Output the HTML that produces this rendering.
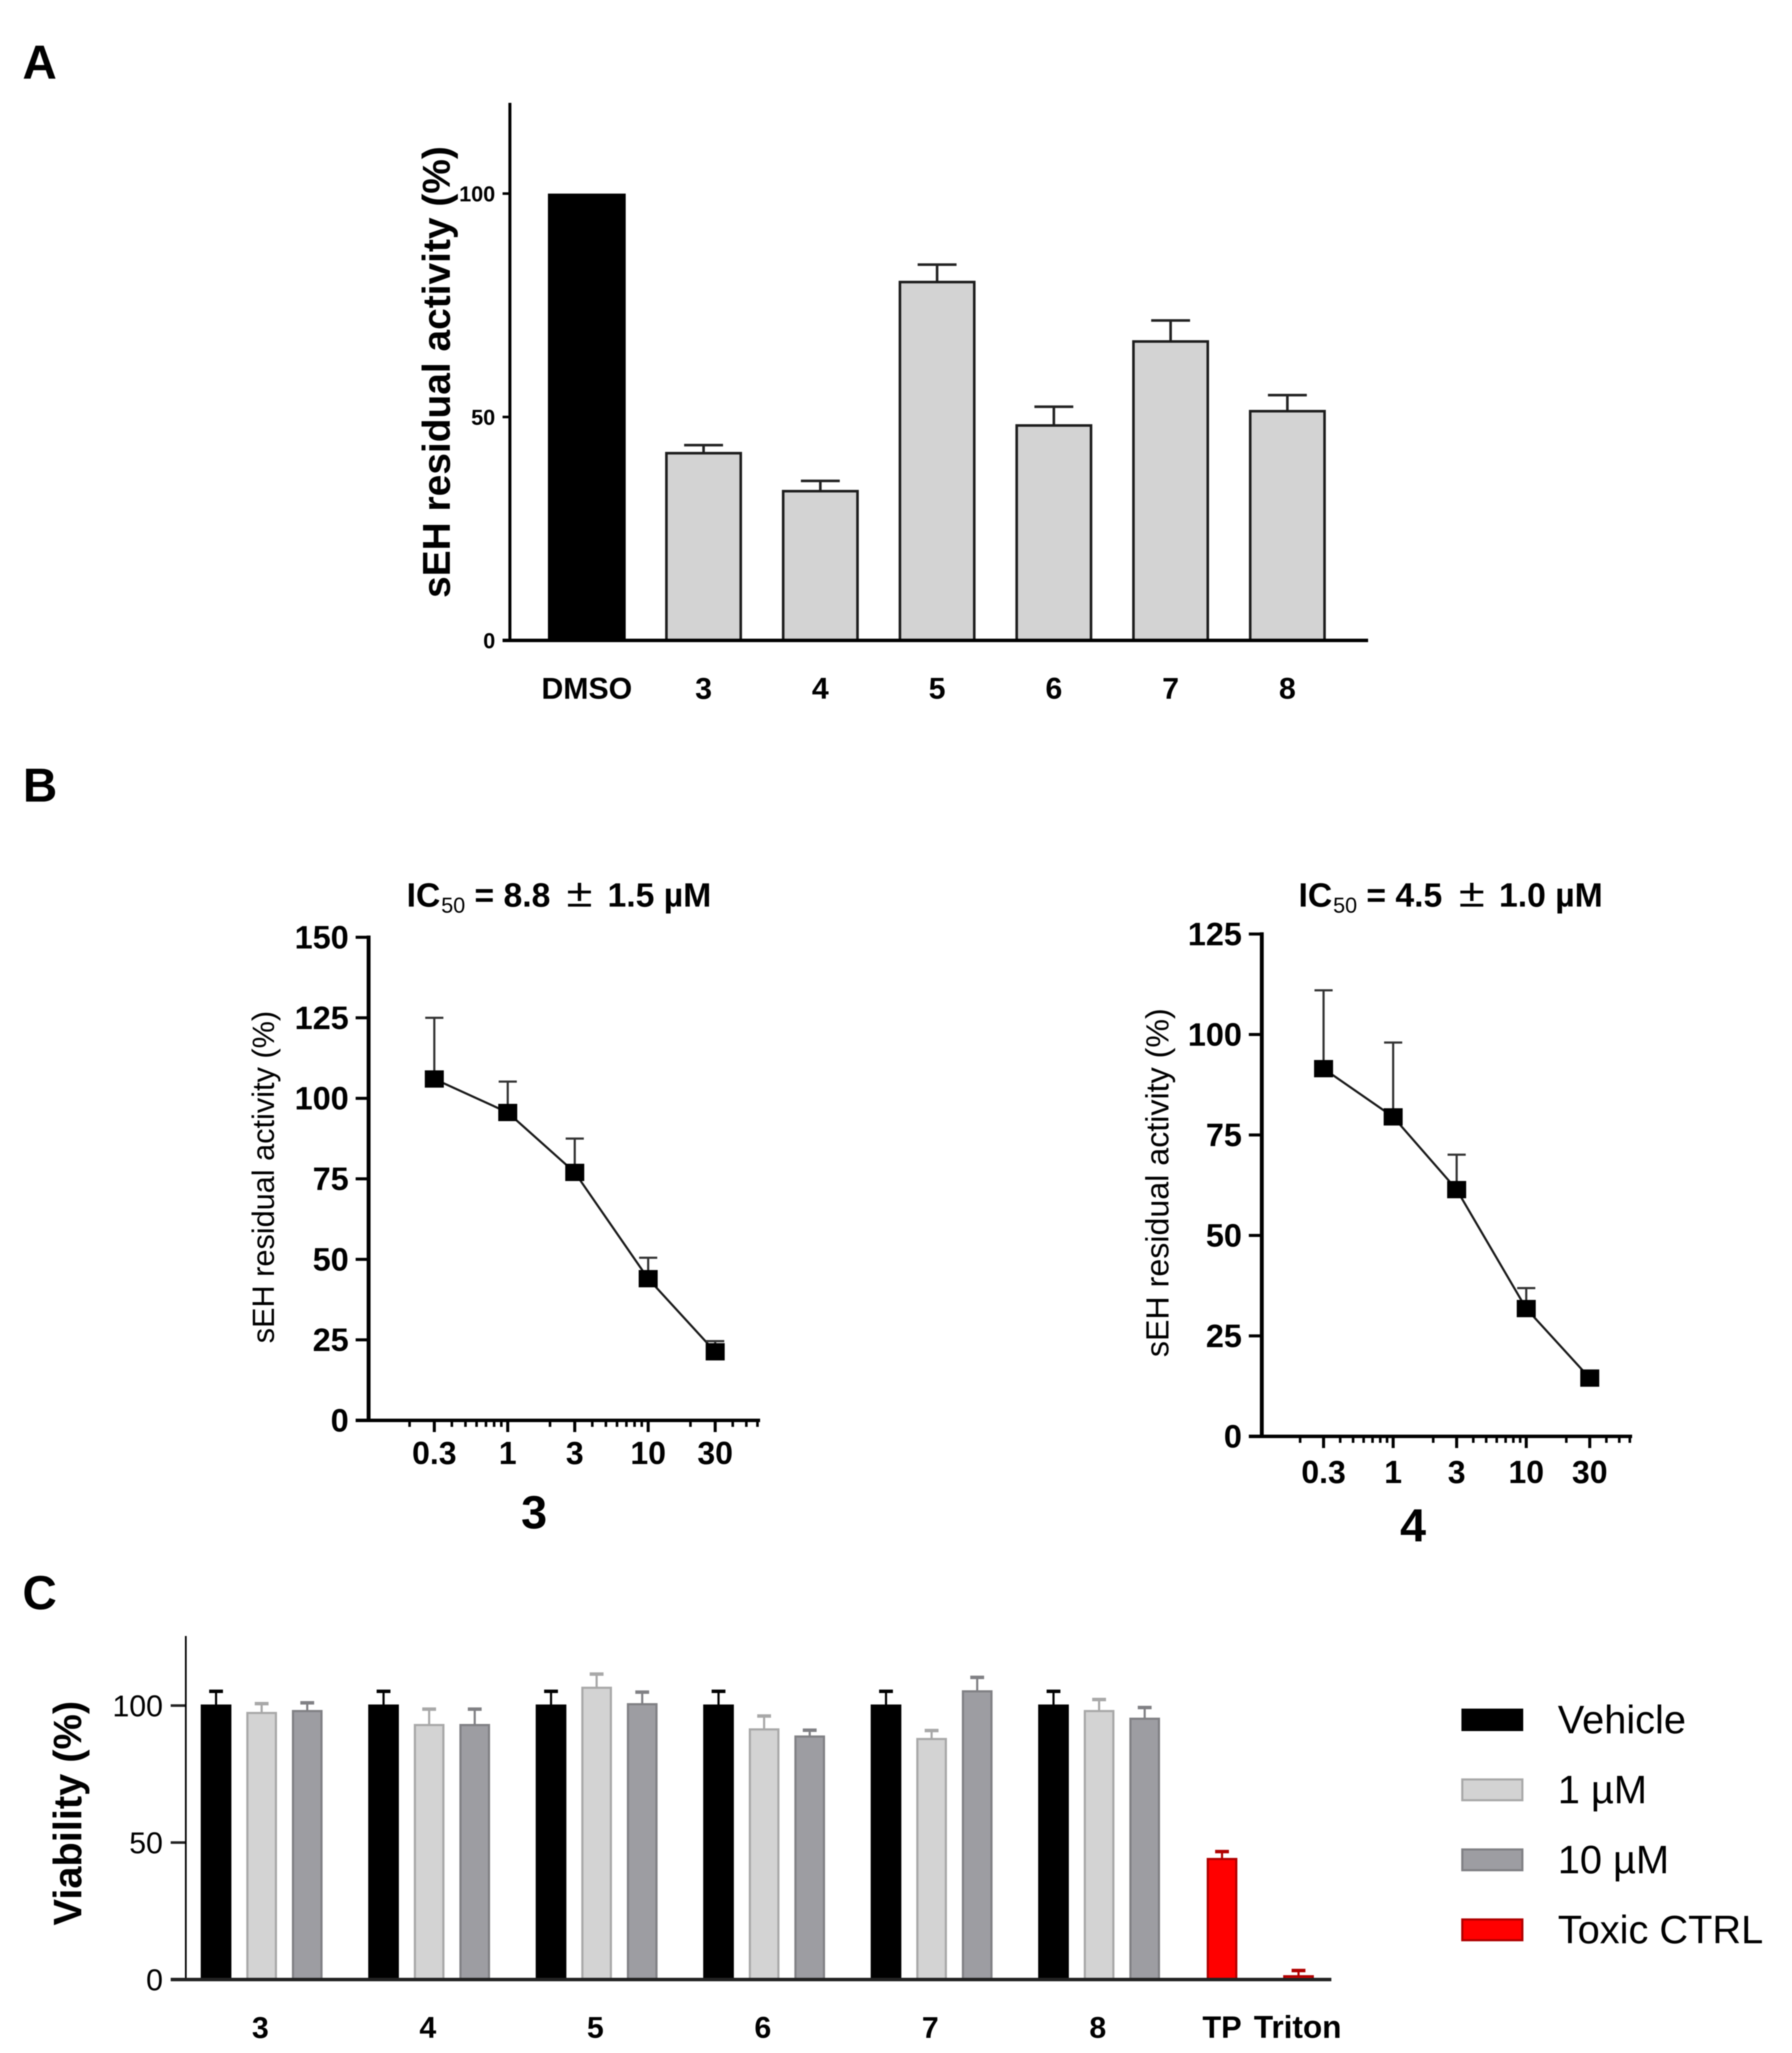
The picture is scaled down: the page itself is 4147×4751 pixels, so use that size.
<!DOCTYPE html>
<html lang="en">
<head>
<meta charset="utf-8">
<title>sEH residual activity and viability</title>
<style>
html,body{margin:0;padding:0;background:#fff;}
#figure{display:block;width:4147px;height:4751px;font-family:"Liberation Sans",Arial,sans-serif;filter:blur(1.3px);}
text{font-family:"Liberation Sans",Arial,sans-serif;fill:#000;}
</style>
</head>
<body>
<svg id="figure" xmlns="http://www.w3.org/2000/svg" width="4147" height="4751" viewBox="0 0 4147 4751">
  <rect x="0" y="0" width="4147" height="4751" fill="#fff"/>

  <text x="52" y="182" font-size="110" font-weight="700">A</text>
  <text x="53" y="1855" font-size="110" font-weight="700">B</text>
  <text x="52" y="3724" font-size="110" font-weight="700">C</text>

  <g id="chart-a">
    <text transform="translate(1041 861) rotate(-90)" text-anchor="middle" font-size="90" font-weight="700">sEH residual activity (%)</text>
  </g>

  <g id="chart-b3">
    <text y="2098" font-size="78" font-weight="700"><tspan x="941">IC</tspan><tspan x="1021" font-size="50" font-weight="400" dy="14">50</tspan><tspan x="1098" dy="-14">= 8.8</tspan><tspan x="1311" font-size="92" font-weight="400" textLength="60" lengthAdjust="spacingAndGlyphs">±</tspan><tspan x="1406">1.5 µM</tspan></text>
    <text transform="translate(634 2724) rotate(-90)" text-anchor="middle" font-size="71">sEH residual activity (%)</text>
    <text x="1236" y="3537" text-anchor="middle" font-size="108" font-weight="700">3</text>
  </g>

  <g id="chart-b4">
    <text y="2098" font-size="78" font-weight="700"><tspan x="3005">IC</tspan><tspan x="3085" font-size="50" font-weight="400" dy="14">50</tspan><tspan x="3162" dy="-14">= 4.5</tspan><tspan x="3376" font-size="92" font-weight="400" textLength="60" lengthAdjust="spacingAndGlyphs">±</tspan><tspan x="3469">1.0 µM</tspan></text>
    <text transform="translate(2704 2737) rotate(-90)" text-anchor="middle" font-size="74.5">sEH residual activity (%)</text>
    <text x="3270" y="3567" text-anchor="middle" font-size="108" font-weight="700">4</text>
  </g>

  <g id="chart-c">
    <text transform="translate(188 4196) rotate(-90)" text-anchor="middle" font-size="92" font-weight="700">Viability (%)</text>
  </g>

  <g id="legend">
    <rect x="3382" y="3954" width="143" height="52" fill="#000"/>
    <text x="3605" y="4011" font-size="92">Vehicle</text>
    <rect x="3384" y="4118" width="139" height="48" fill="#d3d3d3" stroke="#a8a8a8" stroke-width="5"/>
    <text x="3605" y="4173" font-size="92">1 µM</text>
    <rect x="3384" y="4280" width="139" height="48" fill="#9d9da2" stroke="#808084" stroke-width="5"/>
    <text x="3605" y="4335" font-size="92">10 µM</text>
    <rect x="3384" y="4442" width="139" height="48" fill="#ff0000" stroke="#b00000" stroke-width="5"/>
    <text x="3605" y="4497" font-size="92">Toxic CTRL</text>
  </g>
</svg>

<script>
// ---- Panel A data ----
const aCategories = ['DMSO', '3', '4', '5', '6', '7', '8'];
const aValues = [100, 41.9, 33.4, 80.2, 48.1, 66.9, 51.3];
const aErrorTops = [100, 43.7, 35.7, 84.1, 52.3, 71.6, 54.9];
const aYTicks = [0, 50, 100];

// ---- Panel B data ----
const doseLabels = ['0.3', '1', '3', '10', '30'];
const doses = [0.3, 1, 3, 10, 30];
const minorDoses = [0.2, 0.4, 0.5, 0.6, 0.7, 0.8, 0.9, 2, 4, 5, 6, 7, 8, 9, 20, 40, 50, 60];
const b3Values = [106, 95.6, 77, 44, 21.3];
const b3ErrorTops = [125, 105.2, 87.5, 50.5, 24.6];
const b3YTicks = [0, 25, 50, 75, 100, 125, 150];
const b4Values = [91.5, 79.5, 61.4, 31.8, 14.5];
const b4ErrorTops = [111, 98, 70.1, 36.9, 14.5];
const b4YTicks = [0, 25, 50, 75, 100, 125];

// ---- Panel C data ----
const cCategories = ['3', '4', '5', '6', '7', '8'];
const cYTicks = [0, 50, 100];
const vehicleValues = [100, 100, 100, 100, 100, 100];
const vehicleErrorTops = [105.2, 105.2, 105.2, 105.2, 105.2, 105.2];
const oneMicroValues = [97.3, 92.9, 106.5, 91.3, 87.8, 98];
const oneMicroErrorTops = [100.7, 98.7, 111.5, 96.2, 90.9, 102.2];
const tenMicroValues = [98, 92.9, 100.5, 88.7, 105.2, 95.2];
const tenMicroErrorTops = [101, 98.7, 104.9, 91, 110.3, 99.3];
const controlCategories = ['TP', 'Triton'];
const controlValues = [44, 1.2];
const controlErrorTops = [46.7, 3.3];

const SVG_NS = 'http://www.w3.org/2000/svg';

function mk(parent, tag, props) {
  const el = document.createElementNS(SVG_NS, tag);
  for (const k in props) el.setAttribute(k, props[k]);
  parent.appendChild(el);
  return el;
}
function slug(s) {
  return String(s).toLowerCase().replace(/[^a-z0-9]+/g, '-');
}

// ---- Panel A ----
(function () {
  const g = document.getElementById('chart-a');
  const y = v => 1482 - v * 10.34;
  const x = i => 1358 + i * 270.2;
  aValues.forEach((v, i) => {
    const isCtrl = i === 0;
    const w = isCtrl ? 174 : 172;
    if (aErrorTops[i] > v) {
      const stem = mk(g, 'line', { x1: x(i), x2: x(i), y1: y(v), y2: y(aErrorTops[i]), stroke: '#222', 'stroke-width': 6 });
      
      
      const cap = mk(g, 'line', { x1: x(i) - 45, x2: x(i) + 45, y1: y(aErrorTops[i]), y2: y(aErrorTops[i]), stroke: '#222', 'stroke-width': 6 });
      
      
    }
    const barTop = isCtrl ? y(v) + 3 : y(v);
    const bar = mk(g, 'rect', { x: x(i) - w / 2, y: barTop, width: w, height: y(0) - barTop, fill: isCtrl ? '#000' : '#d3d3d3', stroke: isCtrl ? '#000' : '#1c1c1c', 'stroke-width': 6 });
    
    
    const label = mk(g, 'text', { x: x(i), y: 1617, 'text-anchor': 'middle', 'font-size': 70, 'font-weight': 700 });
    label.textContent = aCategories[i];
    
    
  });
  aYTicks.forEach(t => {
    const tick = mk(g, 'line', { x1: 1163, x2: 1180, y1: y(t), y2: y(t), stroke: '#000', 'stroke-width': 6 });
    
    
    const label = mk(g, 'text', { x: 1146, y: y(t) + 18, 'text-anchor': 'end', 'font-size': 50, 'font-weight': 700 });
    label.textContent = t;
    
    
  });
  const yAxis = mk(g, 'line', { x1: 1180, x2: 1180, y1: 238, y2: 1486, stroke: '#000', 'stroke-width': 7 });
  
  
  const xAxis = mk(g, 'line', { x1: 1163, x2: 3166, y1: y(0), y2: y(0), stroke: '#000', 'stroke-width': 8 });
  
  
})();

// ---- Panel B ----
function drawDose(id, prefix, values, errorTops, yTicks, cfg) {
  const g = document.getElementById(id);
  const y = v => cfg.y0 - v * cfg.unit;
  const x = d => cfg.x1 + Math.log10(d) * cfg.decade;

  const pts = doses.map((d, i) => x(d) + ',' + y(values[i])).join(' ');
  const curve = mk(g, 'polyline', { points: pts, fill: 'none', stroke: '#1a1a1a', 'stroke-width': 5 });
  
  

  doses.forEach((d, i) => {
    if (errorTops[i] > values[i]) {
      const stem = mk(g, 'line', { x1: x(d), x2: x(d), y1: y(values[i]), y2: y(errorTops[i]), stroke: '#333', 'stroke-width': 5 });
      
      
      const cap = mk(g, 'line', { x1: x(d) - 21, x2: x(d) + 21, y1: y(errorTops[i]), y2: y(errorTops[i]), stroke: '#333', 'stroke-width': 5 });
      
      
    }
    const pt = mk(g, 'rect', { x: x(d) - 22, y: y(values[i]) - 20, width: 44, height: 40, fill: '#000' });
    
    

    const tick = mk(g, 'line', { x1: x(d), x2: x(d), y1: cfg.y0, y2: cfg.y0 + 27, stroke: '#000', 'stroke-width': 7 });
    
    
    const label = mk(g, 'text', { x: x(d), y: cfg.labelY, 'text-anchor': 'middle', 'font-size': 74, 'font-weight': 700 });
    label.textContent = doseLabels[i];
    
    
  });

  minorDoses.forEach(d => {
    const tick = mk(g, 'line', { x1: x(d), x2: x(d), y1: cfg.y0, y2: cfg.y0 + 15, stroke: '#000', 'stroke-width': 6 });
    
    
  });

  yTicks.forEach(t => {
    const tick = mk(g, 'line', { x1: cfg.xAxis - 30, x2: cfg.xAxis, y1: y(t), y2: y(t), stroke: '#000', 'stroke-width': 7 });
    
    
    const label = mk(g, 'text', { x: cfg.xAxis - 46, y: y(t) + 26, 'text-anchor': 'end', 'font-size': 75, 'font-weight': 700 });
    label.textContent = t;
    
    
  });

  const yAxis = mk(g, 'line', { x1: cfg.xAxis, x2: cfg.xAxis, y1: y(yTicks[yTicks.length - 1]) - 4, y2: cfg.y0 + 4, stroke: '#000', 'stroke-width': 9 });
  
  
  const xAxis = mk(g, 'line', { x1: cfg.xAxis - 30, x2: cfg.xEnd, y1: cfg.y0, y2: cfg.y0, stroke: '#000', 'stroke-width': 8 });
  
  
}
drawDose('chart-b3', 'compound-3', b3Values, b3ErrorTops, b3YTicks, { y0: 3287, unit: 7.453, x1: 1175, decade: 325, xAxis: 853, xEnd: 1759, labelY: 3388 });
drawDose('chart-b4', 'compound-4', b4Values, b4ErrorTops, b4YTicks, { y0: 3324, unit: 9.3, x1: 3224, decade: 308, xAxis: 2920, xEnd: 3777, labelY: 3432 });

// ---- Panel C ----
(function () {
  const g = document.getElementById('chart-c');
  const y = v => 4581 - v * 6.34;
  const groupX = i => 605.5 + i * 387.6;
  const controlX = i => 2828 + i * 177;
  const offset = 105.5;
  const barW = 66;

  function drawBar(cx, value, top, fill, stroke, name) {
    const stem = mk(g, 'line', { x1: cx, x2: cx, y1: y(value), y2: y(top), stroke: stroke, 'stroke-width': 5 });
    
    
    const cap = mk(g, 'line', { x1: cx - 16, x2: cx + 16, y1: y(top), y2: y(top), stroke: stroke, 'stroke-width': 8 });
    
    
    const bar = mk(g, 'rect', { x: cx - barW / 2, y: y(value), width: barW, height: y(0) - y(value), fill: fill, stroke: stroke, 'stroke-width': 5 });
    
    
  }

  cCategories.forEach((c, i) => {
    const cx = groupX(i);
    drawBar(cx - offset, vehicleValues[i], vehicleErrorTops[i], '#000', '#000', 'vehicle-' + c);
    drawBar(cx, oneMicroValues[i], oneMicroErrorTops[i], '#d3d3d3', '#a8a8a8', '1-um-' + c);
    drawBar(cx + offset, tenMicroValues[i], tenMicroErrorTops[i], '#9d9da2', '#808084', '10-um-' + c);
    const label = mk(g, 'text', { x: cx - 3, y: 4716, 'text-anchor': 'middle', 'font-size': 70, 'font-weight': 700 });
    label.textContent = c;
    
    
  });

  controlCategories.forEach((c, i) => {
    drawBar(controlX(i), controlValues[i], controlErrorTops[i], '#ff0000', '#b00000', 'control-' + slug(c));
    const label = mk(g, 'text', { x: controlX(i) + (i === 0 ? 0 : -2), y: 4716, 'text-anchor': 'middle', 'font-size': i === 0 ? 71 : 73, 'font-weight': 700 });
    label.textContent = c;
    
    
  });

  cYTicks.forEach(t => {
    const tick = mk(g, 'line', { x1: 395, x2: 430, y1: y(t), y2: y(t), stroke: '#222', 'stroke-width': 6 });
    
    
    const label = mk(g, 'text', { x: 377, y: y(t) + 25, 'text-anchor': 'end', 'font-size': 70 });
    label.textContent = t;
    
    
  });

  const yAxis = mk(g, 'line', { x1: 430, x2: 430, y1: 3786, y2: 4584, stroke: '#000', 'stroke-width': 4 });
  
  
  const xAxis = mk(g, 'line', { x1: 395, x2: 3081, y1: y(0), y2: y(0), stroke: '#222', 'stroke-width': 8 });
  
  
})();
</script>
</body>
</html>
